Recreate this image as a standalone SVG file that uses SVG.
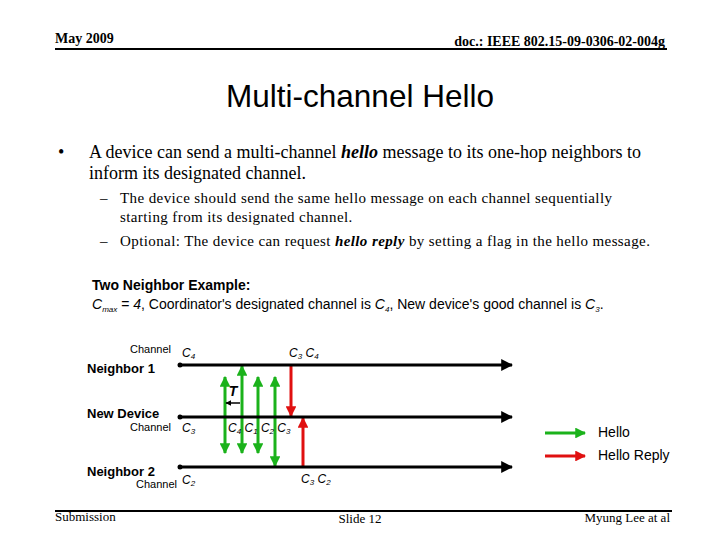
<svg xmlns="http://www.w3.org/2000/svg" width="720" height="540" viewBox="0 0 720 540">
<style>
.tb{font-family:"Liberation Serif",serif;font-weight:bold;font-size:14px;fill:#000}
.tf{font-family:"Liberation Serif",serif;font-size:13px;fill:#000}
.title{font-family:"Liberation Sans",Arial,sans-serif;font-size:31.5px;fill:#000}
.b1{font-family:"Liberation Serif",serif;font-size:18px;fill:#000}
.b2{font-family:"Liberation Serif",serif;font-size:15px;letter-spacing:0.4px;fill:#000}
.ex{font-family:"Liberation Sans",Arial,sans-serif;font-size:14px;fill:#000}
.lbl{font-family:"Liberation Sans",Arial,sans-serif;font-size:13px;font-weight:bold;fill:#000}
.ch{font-family:"Liberation Sans",Arial,sans-serif;font-size:11px;fill:#000}
.c{font-family:"Liberation Sans",Arial,sans-serif;font-size:12px;font-style:italic;fill:#000}
.sub{font-size:8px}
.tl{stroke:#000;stroke-width:3;fill:none}
.g{stroke:#1bb21b;stroke-width:3;fill:none}
.r{stroke:#e01010;stroke-width:3;fill:none}
</style>
<defs>
<marker id="hk" viewBox="0 0 10 10" refX="9" refY="5" markerWidth="4" markerHeight="4" orient="auto" markerUnits="strokeWidth"><path d="M0,0 L10,5 L0,10 Z" fill="#000"/></marker>
<marker id="hg" viewBox="0 0 10 10" refX="9" refY="5" markerWidth="3.6" markerHeight="3.6" orient="auto-start-reverse" markerUnits="strokeWidth"><path d="M0,0 L10,5 L0,10 Z" fill="#1bb21b"/></marker>
<marker id="hr" viewBox="0 0 10 10" refX="9" refY="5" markerWidth="3.6" markerHeight="3.6" orient="auto" markerUnits="strokeWidth"><path d="M0,0 L10,5 L0,10 Z" fill="#e01010"/></marker>
<marker id="hs" viewBox="0 0 10 10" refX="9" refY="5" markerWidth="4" markerHeight="4" orient="auto" markerUnits="strokeWidth"><path d="M0,0 L10,5 L0,10 Z" fill="#000"/></marker>
</defs>
<rect width="720" height="540" fill="#fff"/>
<g id="header">
<text class="tb" x="55" y="43">May 2009</text>
<text class="tb" x="665" y="46" text-anchor="end">doc.: IEEE 802.15-09-0306-02-004g</text>
<line x1="55" y1="49" x2="667" y2="49" stroke="#000" stroke-width="2"/>
</g>
<g id="footer">
<line x1="55" y1="511" x2="672" y2="511" stroke="#000" stroke-width="2"/>
<text class="tf" x="55" y="521">Submission</text>
<text class="tf" x="360" y="523" text-anchor="middle">Slide 12</text>
<text class="tf" x="670" y="522" text-anchor="end">Myung Lee at al</text>
</g>
<text class="title" x="360" y="107" text-anchor="middle">Multi-channel Hello</text>
<g id="bullets">
<text class="b1" x="58" y="158">•</text>
<text class="b1" x="89" y="158">A device can send a multi-channel <tspan font-weight="bold" font-style="italic">hello</tspan> message to its one-hop neighbors to</text>
<text class="b1" x="89" y="179">inform its designated channel.</text>
<text class="b2" x="100" y="203">–</text>
<text class="b2" x="120" y="203">The device should send the same hello message on each channel sequentially</text>
<text class="b2" x="120" y="222">starting from its designated channel.</text>
<text class="b2" x="100" y="246">–</text>
<text class="b2" x="120" y="246">Optional: The device can request <tspan font-weight="bold" font-style="italic">hello reply</tspan> by setting a flag in the hello message.</text>
</g>
<g id="example">
<text class="ex" x="92" y="290" font-weight="bold" font-size="13.5">Two Neighbor Example:</text>
<text class="ex" x="92" y="309"><tspan font-style="italic">C</tspan><tspan class="sub" font-style="italic" dy="3">max</tspan><tspan dy="-3"> = </tspan><tspan font-style="italic">4</tspan>, Coordinator's designated channel is <tspan font-style="italic">C</tspan><tspan class="sub" font-style="italic" dy="3">4</tspan><tspan dy="-3">, New device's good channel is </tspan><tspan font-style="italic">C</tspan><tspan class="sub" font-style="italic" dy="3">3</tspan><tspan dy="-3">.</tspan></text>
</g>
<g id="connectors">
<line class="g" x1="225" y1="377" x2="225" y2="453" marker-start="url(#hg)" marker-end="url(#hg)"/>
<line class="g" x1="242" y1="366" x2="242" y2="453" marker-start="url(#hg)" marker-end="url(#hg)"/>
<line class="g" x1="258" y1="377" x2="258" y2="453" marker-start="url(#hg)" marker-end="url(#hg)"/>
<line class="g" x1="275" y1="377" x2="275" y2="466" marker-start="url(#hg)" marker-end="url(#hg)"/>
<line class="r" x1="291" y1="365" x2="291" y2="416" marker-end="url(#hr)"/>
<line class="r" x1="303" y1="467" x2="303" y2="418" marker-end="url(#hr)"/>
<line x1="240" y1="403" x2="226" y2="403" stroke="#000" stroke-width="1.5" marker-end="url(#hs)"/>
</g>
<g id="neighbor1">
<circle cx="180" cy="365" r="2.5" fill="#000"/>
<line class="tl" x1="180" y1="365" x2="512" y2="365" marker-end="url(#hk)"/>
<text class="ch" x="171" y="353" text-anchor="end">Channel</text>
<text class="c" x="182" y="357">C<tspan class="sub" dy="2">4</tspan></text>
<text class="c" x="289" y="357">C<tspan class="sub" dy="2">3</tspan><tspan dy="-2"> C</tspan><tspan class="sub" dy="2">4</tspan></text>
<text class="lbl" x="87" y="373">Neighbor 1</text>
</g>
<g id="newdevice">
<circle cx="180" cy="417" r="2.5" fill="#000"/>
<line class="tl" x1="180" y1="417" x2="512" y2="417" marker-end="url(#hk)"/>
<text class="lbl" x="87" y="418">New Device</text>
<text class="ch" x="171" y="431" text-anchor="end">Channel</text>
<text class="c" x="182" y="432">C<tspan class="sub" dy="2">3</tspan></text>
<text class="c" x="228" y="432">C<tspan class="sub" dy="2">4</tspan><tspan dy="-2"> C</tspan><tspan class="sub" dy="2">1</tspan><tspan dy="-2"> C</tspan><tspan class="sub" dy="2">2</tspan><tspan dy="-2"> C</tspan><tspan class="sub" dy="2">3</tspan></text>
<text class="ex" x="233" y="396" font-size="13" font-weight="bold" font-style="italic" text-anchor="middle">T</text>
</g>
<g id="neighbor2">
<circle cx="180" cy="467" r="2.5" fill="#000"/>
<line class="tl" x1="180" y1="467" x2="512" y2="467" marker-end="url(#hk)"/>
<text class="lbl" x="87" y="476">Neighbor 2</text>
<text class="ch" x="177" y="488" text-anchor="end">Channel</text>
<text class="c" x="182" y="484">C<tspan class="sub" dy="2">2</tspan></text>
<text class="c" x="301" y="483">C<tspan class="sub" dy="2">3</tspan><tspan dy="-2"> C</tspan><tspan class="sub" dy="2">2</tspan></text>
</g>
<g id="legend">
<line class="g" x1="545" y1="433" x2="585" y2="433" marker-end="url(#hg)"/>
<text class="ex" x="598" y="437" font-size="13">Hello</text>
<line class="r" x1="545" y1="456" x2="585" y2="456" marker-end="url(#hr)"/>
<text class="ex" x="598" y="460" font-size="13">Hello Reply</text>
</g>
</svg>
